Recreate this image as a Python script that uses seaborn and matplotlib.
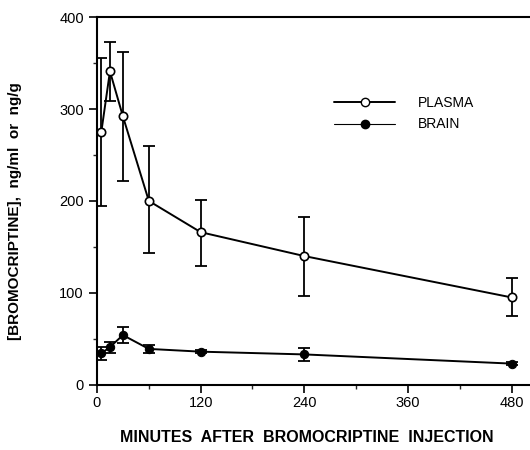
import matplotlib
matplotlib.use("Agg")
import matplotlib.pyplot as plt
import seaborn as sns
import pandas as pd
import numpy as np
from matplotlib.ticker import MultipleLocator
from matplotlib.lines import Line2D

minutes = [5, 15, 30, 60, 120, 240, 480]
plasma = [275, 341, 292, 200, 166, 140, 95]
plasma_err_up = [80, 32, 70, 60, 35, 42, 21]
plasma_err_dn = [80, 32, 70, 57, 37, 43, 20]
brain = [34, 41, 54, 39, 36, 33, 23]
brain_err = [7, 6, 9, 4, 2, 7, 2]

sns.set_style("ticks")
plt.rcParams['font.family'] = ['Liberation Sans', 'DejaVu Sans']
plt.rcParams['text.color'] = 'black'

df = pd.DataFrame({
    "minutes": minutes * 2,
    "value": plasma + brain,
    "series": ["PLASMA"] * len(minutes) + ["BRAIN"] * len(minutes),
})

fig = plt.figure(figsize=(5.3, 4.5), dpi=100)
ax = fig.add_axes([0.183, 0.145, 0.815, 0.817])

ax.errorbar(minutes, plasma, yerr=[plasma_err_dn, plasma_err_up], fmt="none",
            ecolor="black", elinewidth=1.3, capsize=4, capthick=1.3, zorder=2)
ax.errorbar(minutes, brain, yerr=brain_err, fmt="none",
            ecolor="black", elinewidth=1.3, capsize=4, capthick=1.3, zorder=2)

sns.lineplot(data=df[df.series == "PLASMA"], x="minutes", y="value", ax=ax,
             color="black", lw=1.4, marker="o", markersize=6,
             markerfacecolor="white", markeredgecolor="black", markeredgewidth=1.2,
             zorder=3, legend=False)
sns.lineplot(data=df[df.series == "BRAIN"], x="minutes", y="value", ax=ax,
             color="black", lw=1.4, marker="o", markersize=6,
             markerfacecolor="black", markeredgecolor="black",
             zorder=3, legend=False)

ax.set_xlim(0, 500)
ax.set_ylim(0, 400)
ax.set_xticks([0, 120, 240, 360, 480])
ax.set_yticks([0, 100, 200, 300, 400])
ax.xaxis.set_minor_locator(MultipleLocator(60))
ax.yaxis.set_minor_locator(MultipleLocator(50))
ax.tick_params(axis="both", which="major", direction="out", length=6, width=1.2,
               labelsize=10.5, colors="black")
ax.tick_params(axis="both", which="minor", direction="out", length=3, width=1)
ax.tick_params(axis="x", pad=2)

for s in ["left", "bottom", "top"]:
    ax.spines[s].set_linewidth(1.5)
    ax.spines[s].set_color("black")
ax.spines["right"].set_visible(False)

ax.set_xlabel("")
ax.set_ylabel("")
fig.text(307 / 530, 1 - 437 / 450, "MINUTES  AFTER  BROMOCRIPTINE  INJECTION",
         fontsize=11.5, fontweight="bold", ha="center", va="center")
fig.text(15 / 530, 1 - 211 / 450, "[BROMOCRIPTINE],  ng/ml  or  ng/g",
         fontsize=11, fontweight="bold", ha="center", va="center", rotation=90)

handles = [
    Line2D([], [], color="black", lw=1.4, marker="o", markersize=6,
           markerfacecolor="white", markeredgecolor="black"),
    Line2D([], [], color="black", lw=0.8, marker="o", markersize=6,
           markerfacecolor="black", markeredgecolor="black"),
]
ax.legend(handles, ["PLASMA", "BRAIN"], loc="upper left",
          bbox_to_anchor=(0.52, 0.82), frameon=False, fontsize=10,
          handlelength=4.4, handletextpad=1.6, labelspacing=0.55)

fig.savefig("out.png", dpi=100)
